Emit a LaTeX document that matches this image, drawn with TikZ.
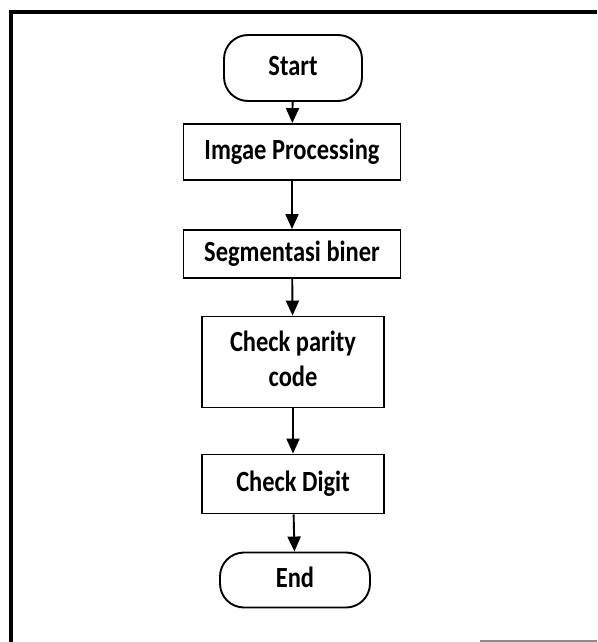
\documentclass[tikz,border=0pt]{standalone}
\usepackage{fontspec}
\setmainfont{Carlito}
\usetikzlibrary{arrows.meta}
% bold labels, slightly stretched vertically
\newcommand{\flowlabel}[1]{\scalebox{1.02}[1.22]{\begin{tabular}{@{}c@{}}#1\end{tabular}}}
\tikzset{
  box/.style={draw, line width=1.9pt, inner sep=0pt,
    font=\bfseries\fontsize{24}{29}\selectfont},
  procbox/.style={box},
  termbox/.style={box, rounded corners=24pt},
  flow/.style={line width=1.9pt, -{Triangle[length=15pt,width=13pt]}},
}
\begin{document}
\begin{tikzpicture}[x=1pt, y=-1pt]
  \useasboundingbox (0,0) rectangle (597,642);
  % frame
  \draw[line width=3.5pt] (11,642) -- (11,12) -- (597,12);
  \draw[line width=1.5pt, black!45] (480,641) -- (597,641);

  \node[termbox, minimum width=138pt, minimum height=66pt] (start) at (293,68) {\flowlabel{Start}};
  \node[procbox, minimum width=217pt, minimum height=56pt] (imgp) at (292,152) {\flowlabel{Imgae Processing}};
  \node[procbox, minimum width=217pt, minimum height=48pt] (seg) at (292,254) {\flowlabel{Segmentasi biner}};
  \node[procbox, minimum width=182pt, minimum height=91pt] (par) at (293,362) {\flowlabel{Check parity\\code}};
  \node[procbox, minimum width=182pt, minimum height=59pt] (dig) at (293,484) {\flowlabel{Check Digit}};
  \node[termbox, minimum width=150pt, minimum height=55pt] (fin) at (295,580) {\flowlabel{End}};

  \draw[flow] (start) -- (imgp);
  \draw[flow] (imgp) -- (seg);
  \draw[flow] (seg) -- (par);
  \draw[flow] (par) -- (dig);
  \draw[flow] (dig) -- (fin);
\end{tikzpicture}
\end{document}
